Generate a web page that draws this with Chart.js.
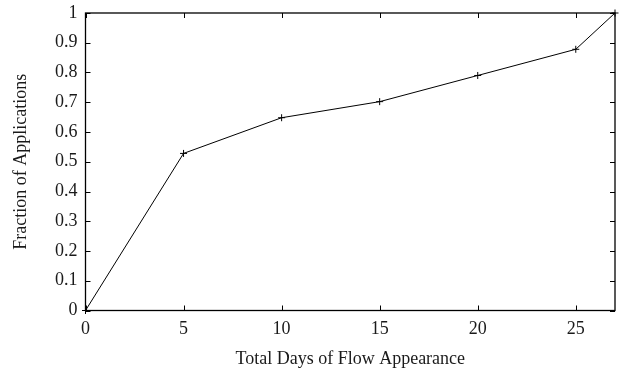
<!DOCTYPE html>
<html>
<head>
<meta charset="utf-8">
<script src="https://cdn.jsdelivr.net/npm/chart.js@4/dist/chart.umd.min.js"></script>
<style>
  html, body { margin: 0; padding: 0; background: #fff; }
  #wrap { width: 620px; height: 374px; }
</style>
</head>
<body>
<div id="wrap"><canvas id="cdf"></canvas></div>
<script>
const days = [0, 5, 10, 15, 20, 25, 27];
const fraction = [0, 0.528, 0.648, 0.702, 0.790, 0.878, 1];
const xTicks = [0, 5, 10, 15, 20, 25];
const yTicks = [0, 0.1, 0.2, 0.3, 0.4, 0.5, 0.6, 0.7, 0.8, 0.9, 1];

const serif = '"Liberation Serif", "Times New Roman", serif';
const ink = '#1a1a1a';

// frame around the plot with short inward tick marks on all four sides
const frame = {
  id: 'frame',
  afterDatasetsDraw(chart) {
    const { ctx, chartArea: a, scales: { x, y } } = chart;
    const len = 5;
    ctx.save();
    ctx.strokeStyle = '#000';
    ctx.lineWidth = 1;
    ctx.beginPath();
    x.ticks.forEach(t => {
      const px = Math.round(x.getPixelForValue(t.value)) + 0.5;
      ctx.moveTo(px, a.bottom); ctx.lineTo(px, a.bottom - len);
      ctx.moveTo(px, a.top); ctx.lineTo(px, a.top + len);
    });
    y.ticks.forEach(t => {
      const py = Math.round(y.getPixelForValue(t.value)) + 0.5;
      ctx.moveTo(a.left, py); ctx.lineTo(a.left + len, py);
      ctx.moveTo(a.right, py); ctx.lineTo(a.right - len, py);
    });
    ctx.stroke();
    ctx.lineWidth = 1.3;
    ctx.strokeRect(a.left, a.top, a.right - a.left, a.bottom - a.top);
    ctx.restore();
  }
};

new Chart(document.getElementById('cdf'), {
  type: 'line',
  data: {
    datasets: [{
      data: days.map((d, i) => ({ x: d, y: fraction[i] })),
      borderColor: '#000',
      borderWidth: 1,
      pointStyle: 'cross',
      pointRadius: 3.5,
      pointBorderWidth: 1,
      pointBorderColor: '#000',
      tension: 0,
      clip: false
    }]
  },
  options: {
    responsive: true,
    maintainAspectRatio: false,
    animation: false,
    layout: { padding: { top: 13, right: 4, left: 0, bottom: 0 } },
    plugins: { legend: { display: false }, tooltip: { enabled: false } },
    scales: {
      x: {
        type: 'linear',
        min: 0,
        max: 27,
        afterBuildTicks: s => { s.ticks = xTicks.map(v => ({ value: v })); },
        afterFit: s => { s.height = 63.5; s.paddingLeft = 0; s.paddingRight = 0; },
        grid: { display: false, drawTicks: false },
        border: { display: false },
        ticks: { color: ink, padding: 8, font: { family: serif, size: 18 }, maxRotation: 0 },
        title: {
          display: true,
          text: 'Total Days of Flow Appearance',
          color: ink,
          font: { family: serif, size: 18 },
          padding: { top: 10 }
        }
      },
      y: {
        min: 0,
        max: 1,
        afterBuildTicks: s => { s.ticks = yTicks.map(v => ({ value: v })); },
        afterFit: s => { s.width = 85.5; s.paddingTop = 0; s.paddingBottom = 0; },
        grid: { display: false, drawTicks: false },
        border: { display: false },
        ticks: {
          color: ink,
          padding: 8,
          font: { family: serif, size: 18 },
          callback: v => String(+v.toFixed(1))
        },
        title: {
          display: true,
          text: 'Fraction of Applications',
          color: ink,
          font: { family: serif, size: 18 },
          padding: { top: 10, bottom: 0 }
        }
      }
    }
  },
  plugins: [frame]
});
</script>
</body>
</html>
